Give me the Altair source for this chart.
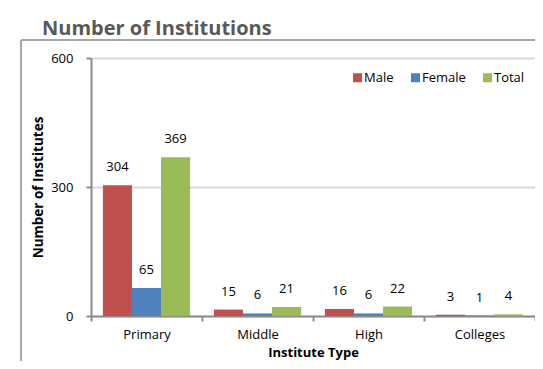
import altair as alt
import pandas as pd

types = ["Primary", "Middle", "High", "Colleges"]
series = ["Male", "Female", "Total"]
male = [304, 15, 16, 3]
female = [65, 6, 6, 1]
total = [369, 21, 22, 4]
colors = ["#C0504D", "#4F81BD", "#9BBB59"]

rows = []
for i, t in enumerate(types):
    for s, vals in zip(series, [male, female, total]):
        rows.append({"type": t, "series": s, "value": vals[i]})
df = pd.DataFrame(rows)

FONT = "Open Sans"

x = alt.X("type:N", sort=types, title="Institute Type",
          scale=alt.Scale(paddingInner=0, paddingOuter=0),
          axis=alt.Axis(labelAngle=0, tickBand="extent", labelPadding=7,
                        labelFontSize=13, labelColor="#000000", labelFont=FONT,
                        titleFontSize=13, titleFont=FONT, titleFontWeight="bold",
                        titleColor="#000000", titlePadding=5,
                        domainColor="#8C8C8C", domainWidth=2,
                        tickColor="#8C8C8C", tickWidth=2, tickSize=5))
xo = alt.XOffset("series:N", sort=series,
                 scale=alt.Scale(paddingInner=0, paddingOuter=0.41))
y = alt.Y("value:Q", title="Number of Institutes",
          scale=alt.Scale(domain=[0, 600]),
          axis=alt.Axis(values=[0, 300, 600], labelFontSize=13, labelColor="#000000",
                        labelFont=FONT, labelPadding=13,
                        titleFontSize=13.5, titleFont=FONT, titleFontWeight="bold",
                        titleColor="#000000", titlePadding=5,
                        domainColor="#8C8C8C", domainWidth=2,
                        tickColor="#8C8C8C", tickWidth=2, tickSize=5,
                        grid=True, gridColor="#D9D9D9", gridWidth=2))

base = alt.Chart(df).encode(x=x, xOffset=xo, y=y)

bars = base.mark_bar().encode(
    color=alt.Color("series:N", sort=series,
                    scale=alt.Scale(domain=series, range=colors),
                    legend=alt.Legend(orient="none", legendX=260, legendY=13,
                                      direction="horizontal", title=None,
                                      symbolType="square", symbolSize=81,
                                      symbolStrokeWidth=0, labelFontSize=13,
                                      labelFont=FONT, labelColor="#000000",
                                      labelOffset=0, columnPadding=15))
)

labels = base.mark_text(dy=-18, fontSize=13, font=FONT, color="#000000",
                        baseline="middle").encode(text="value:Q")

frame_v = alt.Chart(df).mark_rule(color="#A6A6A6", strokeWidth=1.5).encode(
    x=alt.value(-70), y=alt.value(-18), y2=alt.value(400))
frame_h = alt.Chart(df).mark_rule(color="#A6A6A6", strokeWidth=1.5).encode(
    x=alt.value(-70), x2=alt.value(600), y=alt.value(-18))

chart = alt.layer(frame_v, frame_h, bars, labels).properties(
    width=444, height=258,
    title=alt.Title("Number of Institutions", anchor="start", frame="group",
                    dx=-49, offset=0, fontSize=20, font=FONT,
                    fontWeight="bold", color="#595959"),
    autosize=alt.AutoSizeParams(type="none"),
    padding={"left": 83, "top": 50, "right": 0, "bottom": 45},
).configure_view(stroke=None)

chart.save("out.html", embed_options={"renderer": "svg", "actions": False})
